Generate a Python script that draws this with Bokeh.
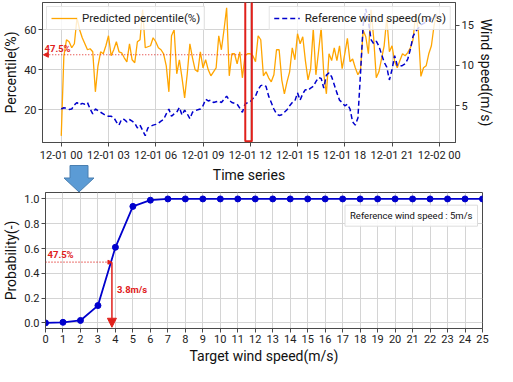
import pandas as pd
from bokeh.plotting import figure
from bokeh.layouts import column
from bokeh.models import (Range1d, LinearAxis, FixedTicker, DatetimeTickFormatter, Legend,
                          LegendItem, Label, Arrow, NormalHead, BoxAnnotation,
                          PrintfTickFormatter, Div)
from bokeh.embed import file_html
from bokeh.resources import INLINE

# ---------------- data ----------------
start_time = "2023-12-01 00:00"
step = "10min"

percentile = [7, 47, 55, 54, 51, 53, 66, 60, 56, 53, 50, 50.5, 49, 29, 42, 49, 48, 52, 57, 47,
              50, 54, 49, 48.5, 46, 44, 53, 45, 43.5, 54, 55, 70, 51, 51.5, 52, 56, 54, 51, 50, 48,
              42, 29, 57, 60, 38, 45, 36, 26, 38, 53, 46, 40, 39, 49, 41, 45, 40, 37, 39, 41,
              57, 50, 60, 71, 37, 48, 48, 43, 49, 36, 47, 48, 48, 47, 44, 57, 55, 37, 39, 36,
              34, 37.5, 50, 50, 35, 28, 34, 39, 51, 45, 58, 53, 56.5, 44.6, 35, 40.6, 60.5, 37.5, 49, 61,
              38, 28, 48, 44.6, 51, 44.6, 52, 40.6, 48, 55.7, 44, 45.4, 41, 37.5, 40, 59.7, 56.5, 48, 70, 56,
              36, 39, 45.4, 52, 66, 49, 52, 44, 41, 44.6, 48, 47, 48.6, 51, 55, 68, 60, 36.7, 41, 42,
              48, 52, 62, 68]

wind_speed = [4.6, 4.75, 4.7, 4.55, 4.6, 5.1, 5.4, 5.1, 5.3, 5.2, 5.4, 4.6, 4.0, 4.6, 4.4, 4.2, 4.0, 3.8, 3.7, 3.7,
              3.55, 3.0, 2.6, 3.35, 3.3, 3.0, 3.3, 3.1, 2.85, 2.25, 2.6, 1.95, 1.3, 2.25, 2.45, 2.6, 2.7, 2.85, 3.1, 3.3,
              4.0, 4.6, 3.7, 4.0, 4.2, 4.8, 3.85, 4.45, 4.0, 3.4, 4.2, 4.4, 4.5, 4.6, 5.0, 5.8, 5.6, 5.7, 5.4, 5.5,
              5.6, 5.4, 5.8, 6.2, 5.7, 5.4, 5.3, 5.2, 4.7, 4.2, 5.2, 5.4, 5.5, 5.9, 6.2, 7.0, 7.5, 7.6, 7.4, 6.2,
              5.4, 4.6, 4.0, 3.8, 3.9, 4.2, 4.5, 5.0, 5.4, 5.6, 6.6, 5.7, 6.5, 7.0, 6.9, 7.2, 7.4, 8.0, 8.5, 8.4,
              7.2, 8.8, 9.1, 8.6, 7.6, 6.6, 5.7, 5.4, 5.0, 5.2, 4.6, 3.0, 2.6, 3.5, 9.0, 15.0, 17.0, 15.5, 13.2, 12.7,
              13.0, 12.4, 11.4, 10.4, 9.8, 8.2, 9.5, 11.2, 10.0, 9.9, 10.0, 10.2, 10.8, 12.0, 13.6, 14.2, 14.6, 15.0, 15.2, 15.4,
              15.6, 15.8, 16.0, 16.2]

target_speed = [0, 1, 2, 3, 4, 5, 6, 7, 8, 9, 10, 11, 12, 13, 14, 15, 16, 17, 18, 19, 20, 21, 22, 23, 24, 25]
probability = [0.0, 0.005, 0.02, 0.14, 0.61, 0.94, 0.99, 1.0, 1.0, 1.0, 1.0, 1.0, 1.0, 1.0, 1.0, 1.0,
               1.0, 1.0, 1.0, 1.0, 1.0, 1.0, 1.0, 1.0, 1.0, 1.0]

time_ticks_hours = [0, 3, 6, 9, 12, 15, 18, 21, 24]
percent_ticks = [20, 40, 60]
wind_ticks = [5, 10, 15]
prob_ticks = [0.0, 0.2, 0.4, 0.6, 0.8, 1.0]

reference_percentile = 47.5
reference_prob_level = 0.49
target_result = 3.8
highlight_start = "2023-12-01 11:41"
highlight_end = "2023-12-01 12:06"

# ---------------- styles ----------------
FONT = "Roboto"
RED = "#e0201b"
GRID = "#d4d4d4"
FRAME = "#4a4a4a"
ARROW_BLUE = "#5b9bd5"
BL = 36

times = pd.date_range(start_time, periods=len(percentile), freq=step)
t0 = pd.Timestamp(start_time)
def ms(ts):
    return pd.Timestamp(ts).value / 1e6

x_lo = t0 - pd.Timedelta(hours=1.19)
x_hi = t0 + pd.Timedelta(hours=25.03)


def style_axes(p):
    for ax in p.axis:
        ax.major_label_text_font = FONT
        ax.major_label_text_font_size = "11px"
        ax.major_label_text_color = "#222222"
        ax.axis_label_text_font = FONT
        ax.axis_label_text_font_size = "14px"
        ax.axis_label_text_font_style = "normal"
        ax.axis_label_text_color = "#111111"
        ax.minor_tick_line_color = None
        ax.major_tick_in = 0
        ax.major_tick_out = 4
        ax.major_tick_line_color = FRAME
        ax.axis_line_color = FRAME
        ax.major_label_standoff = 2
        ax.axis_label_standoff = 2
    p.grid.grid_line_color = GRID
    p.grid.grid_line_width = 1
    p.outline_line_color = FRAME
    p.outline_line_alpha = 1
    p.outline_line_width = 1


# ---------------- top figure ----------------
p1 = figure(width=496, height=190, x_axis_type="datetime",
            x_range=Range1d(x_lo, x_hi), y_range=Range1d(3.7, 73.6),
            output_backend="svg", toolbar_location=None,
            min_border_left=BL, min_border_right=0, min_border_top=2, min_border_bottom=48)
p1.frame_align = False
p1.extra_y_ranges = {"wind": Range1d(0.45, 17.8)}

r_pct = p1.line(times, percentile, line_color="orange", line_width=1.3)
r_wind = p1.line(times, wind_speed, y_range_name="wind", line_color="mediumblue",
                 line_width=1.5, line_dash="5 3")

p1.xaxis.ticker = FixedTicker(ticks=[ms(t0 + pd.Timedelta(hours=h)) for h in time_ticks_hours])
fmt = "%m-%d %H"
p1.xaxis.formatter = DatetimeTickFormatter(milliseconds=fmt, seconds=fmt, minsec=fmt, minutes=fmt,
                                           hourmin=fmt, hours=fmt, days=fmt, months=fmt, years=fmt)
p1.xaxis.axis_label = "Time series"
p1.yaxis.ticker = FixedTicker(ticks=percent_ticks)
p1.yaxis.axis_label = "Percentile(%)"
p1.xgrid.ticker = p1.xaxis[0].ticker
p1.ygrid.ticker = p1.yaxis[0].ticker

ax_r = LinearAxis(y_range_name="wind", axis_label="Wind speed(m/s)", ticker=FixedTicker(ticks=wind_ticks))
p1.add_layout(ax_r, "right")
style_axes(p1)
ax_r.axis_label_standoff = 1

# highlight box and reference arrow
p1.add_layout(BoxAnnotation(left=ms(highlight_start), right=ms(highlight_end), bottom=4.3, top=74.6,
                            fill_alpha=0, line_color=RED, line_alpha=1, line_width=2))
p1.add_layout(Arrow(x_start=ms(highlight_start), y_start=reference_percentile,
                    x_end=ms(x_lo) + 2e5, y_end=reference_percentile,
                    line_color=RED, line_width=1.2, line_dash="1 2",
                    end=NormalHead(size=5, fill_color=RED, line_color=RED)))
p1.add_layout(Label(x=ms(x_lo), y=reference_percentile, x_offset=2, y_offset=1,
                    text=f"{reference_percentile}%", text_color=RED, text_font=FONT,
                    text_font_size="9.5px", text_font_style="bold", text_baseline="bottom"))

leg1 = Legend(items=[LegendItem(label="Predicted percentile(%)", renderers=[r_pct])],
              location="top_left")
leg2 = Legend(items=[LegendItem(label="Reference wind speed(m/s)", renderers=[r_wind])],
              location="top_right")
for lg in (leg1, leg2):
    lg.label_text_font = FONT
    lg.label_text_font_size = "11.5px"
    lg.label_text_color = "#222222"
    lg.glyph_width = 26
    lg.glyph_height = 12
    lg.label_height = 12
    lg.padding = 4
    lg.margin = 4
    lg.spacing = 0
    lg.border_line_color = "#cccccc"
    lg.background_fill_alpha = 0.8
    p1.add_layout(lg)

# ---------------- blue block arrow between the panels ----------------
cx = 79
arrow_svg = (
    f'<svg width="120" height="28" xmlns="http://www.w3.org/2000/svg">'
    f'<polygon points="{cx-9},0.5 {cx+9},0.5 {cx+9},13 {cx+15},13 {cx},27 {cx-15},13 {cx-9},13" '
    f'fill="{ARROW_BLUE}" stroke="#4a7fb0" stroke-width="1"/></svg>'
)
arrow_div = Div(text=arrow_svg, width=120, height=28, margin=(-25, 0, -3, 0),
                styles={"z-index": "10", "position": "relative"})

# ---------------- bottom figure ----------------
p2 = figure(width=496, height=176, x_range=Range1d(0, 25), y_range=Range1d(-0.045, 1.052),
            output_backend="svg", toolbar_location=None,
            min_border_left=BL, min_border_right=14, min_border_top=2, min_border_bottom=2)
p2.frame_align = False
p2.line(target_speed, probability, line_color="mediumblue", line_width=1.8)
p2.scatter(target_speed, probability, size=6, fill_color="mediumblue", line_color="mediumblue")
p2.xaxis.ticker = FixedTicker(ticks=target_speed)
p2.yaxis.ticker = FixedTicker(ticks=prob_ticks)
p2.yaxis.formatter = PrintfTickFormatter(format="%.1f")
p2.xaxis.axis_label = "Target wind speed(m/s)"
p2.yaxis.axis_label = "Probability(-)"
style_axes(p2)

p2.add_layout(Arrow(x_start=0, y_start=reference_prob_level, x_end=target_result, y_end=reference_prob_level,
                    line_color=RED, line_width=1.2, line_dash="1 2",
                    end=NormalHead(size=4, fill_color=RED, line_color=RED)))
p2.add_layout(Arrow(x_start=target_result, y_start=reference_prob_level, x_end=target_result, y_end=-0.035,
                    line_color=RED, line_width=1.5,
                    end=NormalHead(size=9, fill_color=RED, line_color=RED)))
p2.add_layout(Label(x=0, y=reference_prob_level, x_offset=2, y_offset=2,
                    text=f"{reference_percentile}%", text_color=RED, text_font=FONT,
                    text_font_size="9.5px", text_font_style="bold", text_baseline="bottom"))
p2.add_layout(Label(x=target_result, y=0.27, x_offset=5,
                    text=f"{target_result}m/s", text_color=RED, text_font=FONT,
                    text_font_size="9.5px", text_font_style="bold", text_baseline="middle"))
p2.add_layout(Label(x=25, y=0.865, x_offset=-5, text="Reference wind speed : 5m/s",
                    text_font=FONT, text_font_size="9.5px", text_color="#111111",
                    text_align="right", text_baseline="middle", padding=5,
                    border_line_color="#dddddd", background_fill_color="white",
                    background_fill_alpha=0.9))

layout = column(p1, arrow_div, p2, spacing=0)
open("out.html", "w").write(file_html(layout, INLINE))
